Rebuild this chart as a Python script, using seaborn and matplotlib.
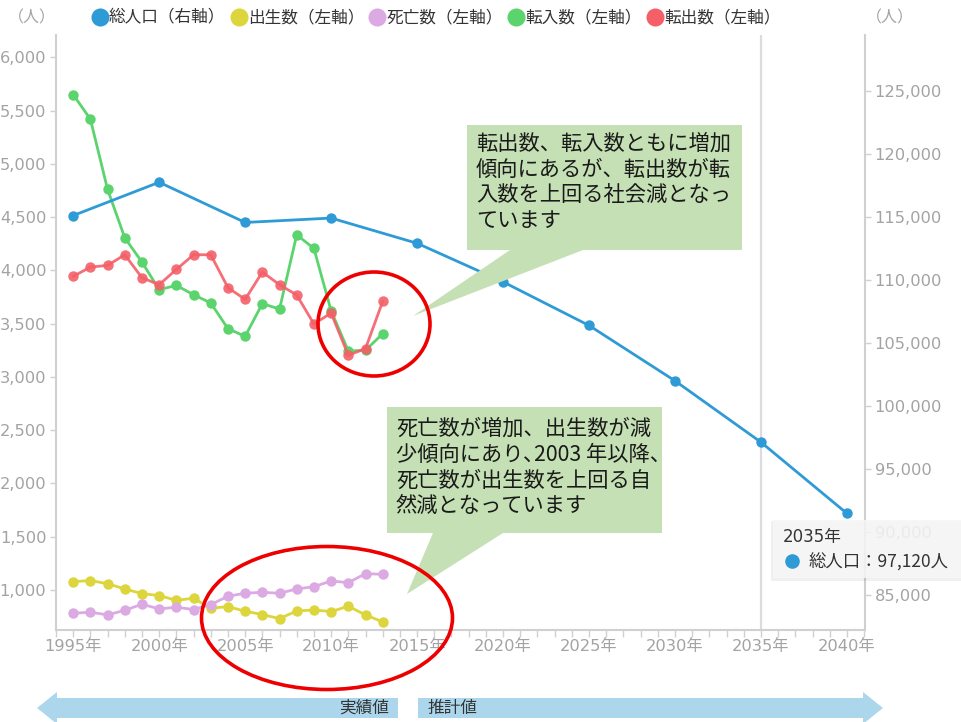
import matplotlib
matplotlib.use("Agg")
import matplotlib.pyplot as plt
import seaborn as sns
import pandas as pd
from matplotlib.patches import Polygon, Ellipse, Rectangle
from matplotlib.lines import Line2D
from matplotlib.ticker import FuncFormatter, MultipleLocator

# ---------------- data ----------------
years_annual = list(range(1995, 2014))
births = [1078, 1088, 1059, 1009, 966, 947, 903, 922, 828, 844, 800, 769, 731, 803, 812, 797, 847, 766, 700]
deaths = [781, 791, 766, 809, 866, 822, 838, 816, 863, 941, 969, 978, 969, 1009, 1031, 1084, 1069, 1153, 1147]
move_in = [5650, 5420, 4760, 4306, 4078, 3819, 3859, 3772, 3694, 3453, 3381, 3688, 3637, 4334, 4206, 3620, 3244, 3250, 3406]
move_out = [3944, 4031, 4047, 4147, 3931, 3866, 4009, 4147, 4147, 3838, 3728, 3984, 3866, 3769, 3497, 3600, 3203, 3266, 3709]
years_pop = [1995, 2000, 2005, 2010, 2015, 2020, 2025, 2030, 2035, 2040]
population = [115100, 117740, 114550, 114900, 112900, 109840, 106380, 101990, 97120, 91470]

series_labels = ["総人口（右軸）", "出生数（左軸）", "死亡数（左軸）", "転入数（左軸）", "転出数（左軸）"]
colors = ["#2f9bd6", "#dcd53c", "#dcaae2", "#5cd46e", "#f45f68"]
note1 = "転出数、転入数ともに増加\n傾向にあるが、転出数が転\n入数を上回る社会減となっ\nています"
note2 = "死亡数が増加、出生数が減\n少傾向にあり､2003 年以降、\n死亡数が出生数を上回る自\n然減となっています"
tooltip_title = "2035年"
tooltip_text = "総人口：97,120人"
unit_label = "（人）"
arrow_left_label = "実績値"
arrow_right_label = "推計値"

# ---------------- style ----------------
sns.set_theme(style="white")
plt.rcParams["font.family"] = ["DejaVu Sans", "Noto Sans CJK JP"]
CJK = ["Noto Sans CJK JP", "DejaVu Sans"]
TICKC = "#a3a3a3"
AXC = "#d0d0d0"

W, H = 961, 722
def fx(x):
    return x / W
def fy(y):
    return 1 - y / H
def pts(lst):
    return [(fx(a), fy(b)) for a, b in lst]

fig = plt.figure(figsize=(W / 100, H / 100), dpi=100)
ax = fig.add_axes([fx(56), fy(630), (865 - 56) / W, (630 - 35) / H])
ax2 = ax.twinx()

df = pd.DataFrame({"year": years_annual, "births": births, "deaths": deaths,
                   "move_in": move_in, "move_out": move_out})
dpop = pd.DataFrame({"year": years_pop, "pop": population})

ax.axvline(2035, color="#dcdcdc", lw=1.6, zorder=0)

common = dict(marker="o", markersize=7.5, markeredgewidth=0, linewidth=2.0)
sns.lineplot(data=df, x="year", y="births", color=colors[1], ax=ax, **common)
sns.lineplot(data=df, x="year", y="deaths", color=colors[2], ax=ax, **common)
sns.lineplot(data=df, x="year", y="move_in", color=colors[3], ax=ax, **common)
sns.lineplot(data=df, x="year", y="move_out", color=colors[4], ax=ax, alpha=0.9, **common)
sns.lineplot(data=dpop, x="year", y="pop", color=colors[0], ax=ax2, **common)

ax.set_xlim(1994.0, 2041.05)
ax.set_ylim(624, 6210)
ax2.set_ylim(82225, 129420)

for a in (ax, ax2):
    a.set_xlabel("")
    a.set_ylabel("")
    for s in a.spines.values():
        s.set_visible(False)
    a.grid(False)

ax.spines["left"].set_visible(True)
ax.spines["left"].set_color(AXC)
ax.spines["left"].set_linewidth(1.5)
ax.spines["bottom"].set_visible(True)
ax.spines["bottom"].set_color(AXC)
ax.spines["bottom"].set_linewidth(1.5)
ax2.spines["right"].set_visible(True)
ax2.spines["right"].set_color(AXC)
ax2.spines["right"].set_linewidth(1.5)

ax.set_yticks(list(range(1000, 6001, 500)))
ax.yaxis.set_major_formatter(FuncFormatter(lambda v, p: f"{int(v):,}"))
ax2.set_yticks(list(range(85000, 125001, 5000)))
ax2.yaxis.set_major_formatter(FuncFormatter(lambda v, p: f"{int(v):,}"))
ax.set_xticks(list(range(1995, 2041, 5)))
ax.set_xticklabels([f"{y}年" for y in range(1995, 2041, 5)])
ax.xaxis.set_minor_locator(MultipleLocator(1))

ax.tick_params(axis="y", which="both", left=True, length=4, width=1, color=AXC,
               labelcolor=TICKC, labelsize=11.7, pad=3)
ax2.tick_params(axis="y", which="both", right=True, length=4, width=1, color=AXC,
                labelcolor=TICKC, labelsize=11.7, pad=3)
ax.tick_params(axis="x", which="both", bottom=True, length=5, width=1, color=AXC,
               labelcolor=TICKC, labelsize=11.7, pad=1.5)

# legend
handles = [Line2D([], [], marker="o", linestyle="", markersize=13, color=c, markeredgewidth=0)
           for c in colors]
fig.legend(handles, series_labels, loc="center", bbox_to_anchor=(fx(436), fy(18)), ncol=5,
           frameon=False, handletextpad=0.05, columnspacing=0.3, handlelength=1.0,
           prop={"family": CJK, "size": 12}, labelcolor="#333333")

fig.text(fx(32), fy(18), unit_label, ha="center", va="center", color=TICKC, fontsize=11.5, family=CJK)
fig.text(fx(890), fy(18), unit_label, ha="center", va="center", color=TICKC, fontsize=11.5, family=CJK)

# callouts
GREEN_BOX = "#c5e0b4"
call1 = [(467, 125), (742, 125), (742, 250), (583, 250), (413, 316), (510, 250), (467, 250)]
call2 = [(387, 407), (662, 407), (662, 533), (503, 533), (407, 594), (433, 533), (387, 533)]
for c in (call1, call2):
    fig.add_artist(Polygon(pts(c), closed=True, transform=fig.transFigure,
                           facecolor=GREEN_BOX, edgecolor="none", zorder=5))
fig.text(fx(476), fy(133), note1, ha="left", va="top", fontsize=15.3, family=CJK,
         color="#1a1a1a", linespacing=1.22, zorder=6)
fig.text(fx(396), fy(418), note2, ha="left", va="top", fontsize=15.3, family=CJK,
         color="#1a1a1a", linespacing=1.22, zorder=6)

# red ellipses
fig.add_artist(Ellipse((fx(374), fy(324)), 112 / W, 104 / H, transform=fig.transFigure,
                       fill=False, edgecolor="#ee0000", linewidth=2.6, zorder=6))
fig.add_artist(Ellipse((fx(327), fy(618)), 251 / W, 143 / H, transform=fig.transFigure,
                       fill=False, edgecolor="#ee0000", linewidth=2.6, zorder=6))

# tooltip
fig.add_artist(Rectangle((fx(771), fy(581)), 200 / W, 60 / H, transform=fig.transFigure,
                         facecolor="#000000", alpha=0.06, edgecolor="none", zorder=7))
fig.add_artist(Rectangle((fx(773), fy(578)), 200 / W, 58 / H, transform=fig.transFigure,
                         facecolor="#f6f6f6", alpha=0.88, edgecolor="none", zorder=7))
fig.text(fx(783), fy(537), tooltip_title, ha="left", va="center", fontsize=12,
         family=["DejaVu Sans", "Noto Sans CJK JP"], color="#333333", zorder=8)
fig.add_artist(Line2D([fx(792)], [fy(561)], marker="o", markersize=10.5, color=colors[0],
                      markeredgewidth=0, transform=fig.transFigure, zorder=8))
fig.text(fx(809), fy(562), tooltip_text, ha="left", va="center", fontsize=12.5,
         family=CJK, color="#333333", zorder=8)

# bottom arrows
ARROWC = "#abd6ec"
larrow = [(37, 708), (57, 692), (57, 698), (398, 698), (398, 718), (57, 718), (57, 724)]
rarrow = [(418, 698), (863, 698), (863, 692), (883, 708), (863, 724), (863, 718), (418, 718)]
for c in (larrow, rarrow):
    fig.add_artist(Polygon(pts(c), closed=True, transform=fig.transFigure,
                           facecolor=ARROWC, edgecolor="none", zorder=5))
fig.text(fx(389), fy(708), arrow_left_label, ha="right", va="center", fontsize=12,
         family=CJK, color="#333333", zorder=6)
fig.text(fx(428), fy(708), arrow_right_label, ha="left", va="center", fontsize=12,
         family=CJK, color="#333333", zorder=6)

fig.savefig("out.png", dpi=100)
